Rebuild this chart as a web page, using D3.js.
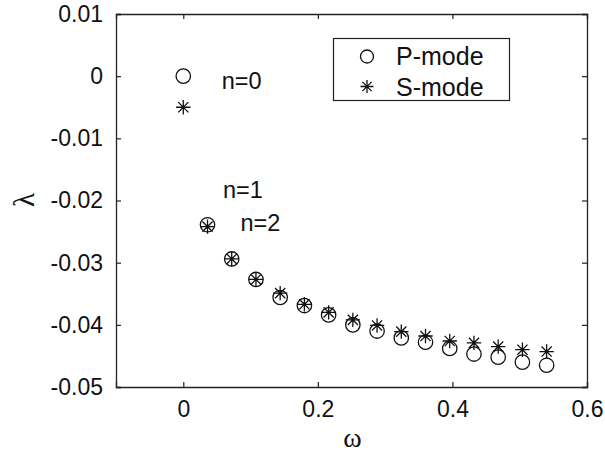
<!DOCTYPE html>
<html>
<head>
<meta charset="utf-8">
<script src="https://cdn.jsdelivr.net/npm/d3@7"></script>
<style>
  body { margin: 0; background: #fff; }
  svg { display: block; }
  text { font-family: "Liberation Sans", Arial, Helvetica, sans-serif; fill: #111; }
</style>
</head>
<body>
<div id="chart"></div>
<script>
const omega = [0, 0.036, 0.072, 0.108, 0.144, 0.18, 0.216, 0.252, 0.288, 0.324, 0.36, 0.396, 0.432, 0.468, 0.504, 0.54];
const pMode = [0, -0.0239, -0.0294, -0.0327, -0.0356, -0.0369, -0.0384, -0.0400, -0.0410, -0.0421, -0.0428, -0.0438, -0.0447, -0.0452, -0.0460, -0.0465];
const sMode = [-0.0050, -0.0242, -0.0294, -0.0327, -0.0349, -0.0367, -0.0380, -0.0392, -0.0401, -0.0411, -0.0418, -0.0426, -0.0429, -0.0435, -0.0440, -0.0443];
const xTicks = [0, 0.2, 0.4, 0.6];
const yTicks = [0.01, 0, -0.01, -0.02, -0.03, -0.04, -0.05];
const seriesNames = ["P-mode", "S-mode"];
const annotations = [
  { label: "n=0", w: 0.057, l: -0.0021 },
  { label: "n=1", w: 0.059, l: -0.0196 },
  { label: "n=2", w: 0.085, l: -0.0249 }
];

const W = 605, H = 455;
const mLeft = 116, mRight = 587, mTop = 14, mBottom = 387;

const svg = d3.select("#chart").append("svg").attr("width", W).attr("height", H);
const x = d3.scaleLinear().domain([-0.1, 0.6]).range([mLeft, mRight]);
const y = d3.scaleLinear().domain([-0.05, 0.01]).range([mBottom, mTop]);

const axisColor = "#222";
const fmt = d => d === 0 ? "0" : String(+d.toFixed(2));

// Box with inward ticks on all sides
const gB = svg.append("g").attr("transform", `translate(0,${mBottom})`)
  .call(d3.axisBottom(x).tickValues(xTicks).tickSize(-5).tickPadding(14).tickFormat(fmt));
const gT = svg.append("g").attr("transform", `translate(0,${mTop})`)
  .call(d3.axisTop(x).tickValues(xTicks).tickSize(-5).tickFormat(""));
const gL = svg.append("g").attr("transform", `translate(${mLeft},0)`)
  .call(d3.axisLeft(y).tickValues(yTicks).tickSize(-5).tickPadding(13).tickFormat(fmt));
const gR = svg.append("g").attr("transform", `translate(${mRight},0)`)
  .call(d3.axisRight(y).tickValues(yTicks).tickSize(-5).tickFormat(""));

[gB, gT, gL, gR].forEach(g => {
  g.select(".domain").attr("stroke", axisColor).attr("stroke-width", 1.3);
  g.selectAll(".tick line").attr("stroke", axisColor).attr("stroke-width", 1.2);
  g.selectAll(".tick text").attr("fill", "#111").style("font-size", "23px")
    .style("font-family", '"Liberation Sans", Arial, sans-serif');
});
gB.selectAll(".tick text").attr("dy", "0.71em");

// Axis labels
svg.append("text")
  .attr("x", x(0.2515))
  .attr("y", 447)
  .attr("text-anchor", "middle")
  .style("font-family", '"Liberation Serif", "Times New Roman", serif')
  .style("font-size", "28px")
  .text("ω");

svg.append("text")
  .attr("transform", `translate(34,200) rotate(-90)`)
  .attr("text-anchor", "middle")
  .style("font-family", '"Liberation Serif", "Times New Roman", serif')
  .style("font-size", "29px")
  .text("λ");

// Star marker path generator
function starPath(cx, cy, r) {
  const d = r * Math.SQRT1_2;
  return `M${cx - r},${cy}L${cx + r},${cy}M${cx},${cy - r}L${cx},${cy + r}` +
         `M${cx - d},${cy - d}L${cx + d},${cy + d}M${cx - d},${cy + d}L${cx + d},${cy - d}`;
}

const plot = svg.append("g");
plot.selectAll("circle.p").data(omega.map((w, i) => [w, pMode[i]])).join("circle")
  .attr("class", "p")
  .attr("cx", d => x(d[0])).attr("cy", d => y(d[1])).attr("r", 7.2)
  .attr("fill", "none").attr("stroke", "#111").attr("stroke-width", 1.3);

plot.selectAll("path.s").data(omega.map((w, i) => [w, sMode[i]])).join("path")
  .attr("class", "s")
  .attr("d", d => starPath(x(d[0]), y(d[1]), 7.2))
  .attr("fill", "none").attr("stroke", "#111").attr("stroke-width", 1.3);

// Annotations
svg.selectAll("text.ann").data(annotations).join("text")
  .attr("class", "ann")
  .attr("x", d => x(d.w)).attr("y", d => y(d.l))
  .style("font-size", "23.5px")
  .text(d => d.label);

// Legend
const lg = svg.append("g");
lg.append("rect").attr("x", 333.5).attr("y", 38.5).attr("width", 176).attr("height", 62)
  .attr("fill", "#fff").attr("stroke", axisColor).attr("stroke-width", 1.2);
lg.append("circle").attr("cx", 367).attr("cy", 56.5).attr("r", 6.5)
  .attr("fill", "none").attr("stroke", "#111").attr("stroke-width", 1.3);
lg.append("path").attr("d", starPath(367, 86.5, 6.5))
  .attr("fill", "none").attr("stroke", "#111").attr("stroke-width", 1.3);
lg.selectAll("text.leg").data(seriesNames).join("text")
  .attr("class", "leg")
  .attr("x", 396).attr("y", (d, i) => 65 + i * 30.5)
  .style("font-size", "25px")
  .text(d => d);
</script>
</body>
</html>
